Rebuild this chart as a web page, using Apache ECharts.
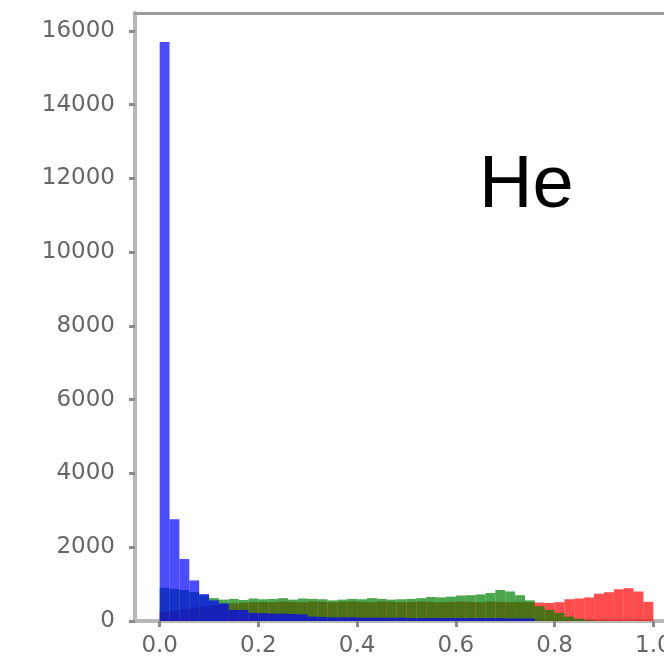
<!DOCTYPE html>
<html>
<head>
<meta charset="utf-8">
<script src="https://cdn.jsdelivr.net/npm/echarts@6/dist/echarts.min.js"></script>
<style>
  html, body { margin: 0; padding: 0; background: #fff; overflow: hidden; }
  #chart { width: 664px; height: 663px; }
</style>
</head>
<body>
<div id="chart"></div>
<script>
// Histogram bins: 50 bins of width 0.02 over [0, 1]
const binStart = 0;
const binWidth = 0.02;

// Counts per bin for each of the three distributions
const redCounts = [
  250, 280, 320, 360, 400, 430, 460, 480, 500, 510,
  520, 510, 530, 520, 510, 530, 520, 510, 520, 530,
  520, 510, 530, 520, 510, 520, 530, 520, 510, 520,
  530, 520, 510, 530, 520, 510, 520, 510, 500, 490,
  510, 590, 610, 640, 740, 780, 860, 890, 800, 520
];
const greenCounts = [
  900, 870, 840, 790, 700, 620, 580, 600, 570, 610,
  590, 600, 620, 580, 610, 600, 590, 560, 580, 600,
  590, 620, 600, 580, 590, 600, 620, 650, 640, 660,
  690, 700, 720, 760, 840, 800, 700, 560, 400, 300,
  220, 120, 60, 20, 5, 0, 0, 0, 0, 0
];
const blueCounts = [
  15700, 2760, 1680, 1100, 730, 560, 480, 300, 300, 220,
  210, 200, 200, 190, 180, 120, 110, 100, 100, 100,
  90, 90, 90, 90, 90, 80, 80, 80, 80, 80,
  80, 80, 80, 80, 80, 70, 70, 70, 0, 0,
  0, 0, 0, 0, 0, 0, 0, 0, 0, 0
];

// Tick values
const xTicks = [0.0, 0.2, 0.4, 0.6, 0.8, 1.0];
const yTicks = [0, 2000, 4000, 6000, 8000, 10000, 12000, 14000, 16000];
const panelLabel = 'He';

function toBins(counts) {
  return counts.map((c, i) => [binStart + i * binWidth, binStart + (i + 1) * binWidth, c]);
}

function histSeries(counts, fill) {
  return {
    type: 'custom',
    xAxisIndex: 0,
    yAxisIndex: 0,
    data: toBins(counts),
    encode: { x: [0, 1], y: 2 },
    renderItem: function (params, api) {
      const p0 = api.coord([api.value(0), 0]);
      const p1 = api.coord([api.value(1), api.value(2)]);
      return {
        type: 'rect',
        shape: { x: p0[0], y: p1[1], width: p1[0] - p0[0], height: p0[1] - p1[1] },
        style: { fill: fill }
      };
    },
    silent: true
  };
}

const labelFont = { fontFamily: 'DejaVu Sans', fontSize: 23, color: '#666666' };

const chart = echarts.init(document.getElementById('chart'), null, { renderer: 'canvas' });
chart.setOption({
  animation: false,
  backgroundColor: '#ffffff',
  // the plot frame runs past the right edge of the canvas
  grid: {
    left: 135, top: 13, width: 543, bottom: 42,
    containLabel: false,
    outerBoundsMode: 'none'
  },
  xAxis: [
    {
      type: 'value',
      min: -0.05,
      max: 1.05,
      position: 'bottom',
      splitLine: { show: false },
      axisLine: { show: true, onZero: false, lineStyle: { color: '#b8b8b8', width: 4 } },
      axisTick: { show: true, length: 6, customValues: xTicks, lineStyle: { color: '#8a8a8a', width: 3 } },
      axisLabel: Object.assign({
        margin: 14,
        customValues: xTicks,
        formatter: v => v.toFixed(1)
      }, labelFont)
    },
    {
      type: 'value',
      min: -0.05,
      max: 1.05,
      position: 'top',
      splitLine: { show: false },
      axisLine: { show: true, onZero: false, lineStyle: { color: '#9c9c9c', width: 3 } },
      axisTick: { show: false },
      axisLabel: { show: false }
    }
  ],
  yAxis: [
    {
      type: 'value',
      min: 0,
      max: 16485,
      splitLine: { show: false },
      axisLine: { show: true, onZero: false, lineStyle: { color: '#b8b8b8', width: 4 } },
      axisTick: { show: true, length: 6, customValues: yTicks, lineStyle: { color: '#8a8a8a', width: 3 } },
      axisLabel: Object.assign({
        margin: 20,
        customValues: yTicks,
        formatter: v => String(v)
      }, labelFont)
    }
  ],
  graphic: [
    {
      type: 'text',
      left: 479,
      top: 150,
      z: 100,
      style: {
        text: panelLabel,
        fontFamily: 'Liberation Sans',
        fontSize: 74,
        fill: '#000000'
      }
    }
  ],
  series: [
    histSeries(redCounts, 'rgba(255,0,0,0.7)'),
    histSeries(greenCounts, 'rgba(0,128,0,0.7)'),
    histSeries(blueCounts, 'rgba(0,0,255,0.7)')
  ]
});
</script>
</body>
</html>
